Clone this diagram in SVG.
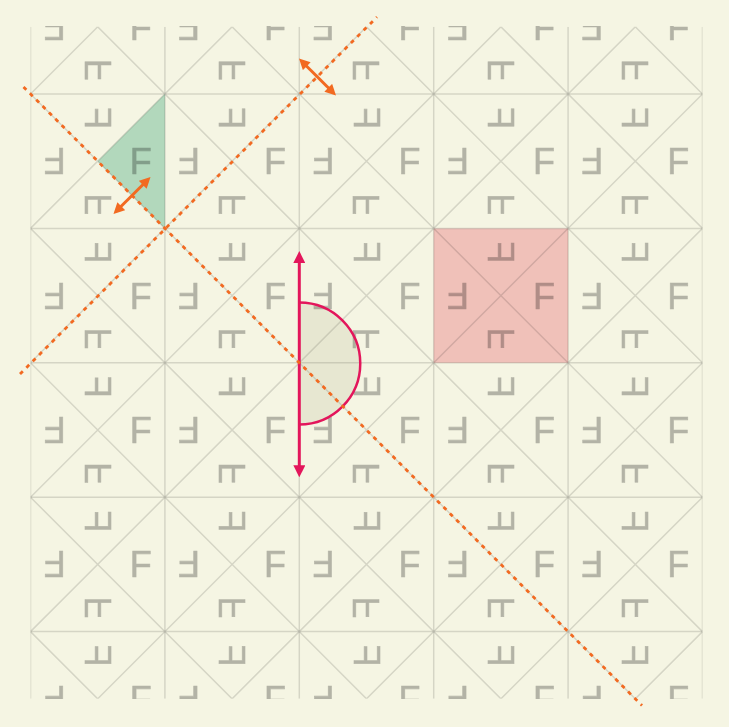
<svg xmlns="http://www.w3.org/2000/svg" width="729" height="727" viewBox="0 0 729 727">
<style>
.grid{fill:none;stroke:#000;stroke-opacity:0.13;stroke-width:1.5}
.glyphs text{font-family:"Liberation Sans",Arial,sans-serif;font-size:36px;text-anchor:middle;fill:#000;stroke:#000;stroke-width:0.6}
.orange{fill:none;stroke:#f26a21;stroke-width:2.8;stroke-dasharray:4 5}
.oarrow{fill:none;stroke:#f26a21;stroke-width:3}
.carrow{fill:none;stroke:#e3165b;stroke-width:3}
</style>
<defs>
<clipPath id="clip"><rect x="30.5" y="26.8" width="672" height="672"/></clipPath>
<marker id="ah-o" viewBox="0 0 10 10" refX="2" refY="5" markerWidth="11" markerHeight="11" markerUnits="userSpaceOnUse" orient="auto-start-reverse"><path d="M0,0L10,5L0,10z" fill="#f26a21"/></marker>
<marker id="ah-c" viewBox="0 0 12 12" refX="3" refY="6" markerWidth="12" markerHeight="12" markerUnits="userSpaceOnUse" orient="auto-start-reverse"><path d="M0,0L12,6L0,12z" fill="#e3165b"/></marker>
</defs>
<rect width="729" height="727" fill="#f5f5e3"/>
<g clip-path="url(#clip)">
<polygon id="unit-cell" points="433.7,228.4 568.1,228.4 568.1,362.8 433.7,362.8" fill="#f0c1b9"/>
<polygon id="fundamental-domain" points="164.9,94 164.9,228.4 97.7,161.2" fill="#b2d8bc"/>
<path class="grid" d="M30.5,26.8V698.8M164.9,26.8V698.8M299.3,26.8V698.8M433.7,26.8V698.8M568.1,26.8V698.8M702.5,26.8V698.8M30.5,94H702.5M30.5,228.4H702.5M30.5,362.8H702.5M30.5,497.2H702.5M30.5,631.6H702.5"/>
<path class="grid" d="M0,-608.5L729,120.5M0,-474.1L729,254.9M0,-339.7L729,389.3M0,-205.3L729,523.7M0,-70.9L729,658.1M0,63.5L729,792.5M0,197.9L729,926.9M0,332.3L729,1061.3M0,466.7L729,1195.7M0,601.1L729,1330.1M0,124.5L729,-604.5M0,258.9L729,-470.1M0,393.3L729,-335.7M0,527.7L729,-201.3M0,662.1L729,-66.9M0,796.5L729,67.5M0,930.9L729,201.9M0,1065.3L729,336.3M0,1199.7L729,470.7M0,1334.1L729,605.1"/>
<g class="glyphs" opacity="0.27">
<g id="cell-0-0" transform="translate(97.7,26.8)"><text x="0" y="12.9" transform="translate(43,0)">F</text><text x="0" y="12.9" transform="translate(-43,0) rotate(180)">F</text><text x="0" y="12.9" transform="translate(0,43) matrix(0,1,1,0,0,0)">F</text></g>
<g id="cell-0-1" transform="translate(232.1,26.8)"><text x="0" y="12.9" transform="translate(43,0)">F</text><text x="0" y="12.9" transform="translate(-43,0) rotate(180)">F</text><text x="0" y="12.9" transform="translate(0,43) matrix(0,1,1,0,0,0)">F</text></g>
<g id="cell-0-2" transform="translate(366.5,26.8)"><text x="0" y="12.9" transform="translate(43,0)">F</text><text x="0" y="12.9" transform="translate(-43,0) rotate(180)">F</text><text x="0" y="12.9" transform="translate(0,43) matrix(0,1,1,0,0,0)">F</text></g>
<g id="cell-0-3" transform="translate(500.9,26.8)"><text x="0" y="12.9" transform="translate(43,0)">F</text><text x="0" y="12.9" transform="translate(-43,0) rotate(180)">F</text><text x="0" y="12.9" transform="translate(0,43) matrix(0,1,1,0,0,0)">F</text></g>
<g id="cell-0-4" transform="translate(635.3,26.8)"><text x="0" y="12.9" transform="translate(43,0)">F</text><text x="0" y="12.9" transform="translate(-43,0) rotate(180)">F</text><text x="0" y="12.9" transform="translate(0,43) matrix(0,1,1,0,0,0)">F</text></g>
<g id="cell-1-0" transform="translate(97.7,161.2)"><text x="0" y="12.9" transform="translate(43,0)">F</text><text x="0" y="12.9" transform="translate(0,-43) matrix(0,-1,-1,0,0,0)">F</text><text x="0" y="12.9" transform="translate(-43,0) rotate(180)">F</text><text x="0" y="12.9" transform="translate(0,43) matrix(0,1,1,0,0,0)">F</text></g>
<g id="cell-1-1" transform="translate(232.1,161.2)"><text x="0" y="12.9" transform="translate(43,0)">F</text><text x="0" y="12.9" transform="translate(0,-43) matrix(0,-1,-1,0,0,0)">F</text><text x="0" y="12.9" transform="translate(-43,0) rotate(180)">F</text><text x="0" y="12.9" transform="translate(0,43) matrix(0,1,1,0,0,0)">F</text></g>
<g id="cell-1-2" transform="translate(366.5,161.2)"><text x="0" y="12.9" transform="translate(43,0)">F</text><text x="0" y="12.9" transform="translate(0,-43) matrix(0,-1,-1,0,0,0)">F</text><text x="0" y="12.9" transform="translate(-43,0) rotate(180)">F</text><text x="0" y="12.9" transform="translate(0,43) matrix(0,1,1,0,0,0)">F</text></g>
<g id="cell-1-3" transform="translate(500.9,161.2)"><text x="0" y="12.9" transform="translate(43,0)">F</text><text x="0" y="12.9" transform="translate(0,-43) matrix(0,-1,-1,0,0,0)">F</text><text x="0" y="12.9" transform="translate(-43,0) rotate(180)">F</text><text x="0" y="12.9" transform="translate(0,43) matrix(0,1,1,0,0,0)">F</text></g>
<g id="cell-1-4" transform="translate(635.3,161.2)"><text x="0" y="12.9" transform="translate(43,0)">F</text><text x="0" y="12.9" transform="translate(0,-43) matrix(0,-1,-1,0,0,0)">F</text><text x="0" y="12.9" transform="translate(-43,0) rotate(180)">F</text><text x="0" y="12.9" transform="translate(0,43) matrix(0,1,1,0,0,0)">F</text></g>
<g id="cell-2-0" transform="translate(97.7,295.6)"><text x="0" y="12.9" transform="translate(43,0)">F</text><text x="0" y="12.9" transform="translate(0,-43) matrix(0,-1,-1,0,0,0)">F</text><text x="0" y="12.9" transform="translate(-43,0) rotate(180)">F</text><text x="0" y="12.9" transform="translate(0,43) matrix(0,1,1,0,0,0)">F</text></g>
<g id="cell-2-1" transform="translate(232.1,295.6)"><text x="0" y="12.9" transform="translate(43,0)">F</text><text x="0" y="12.9" transform="translate(0,-43) matrix(0,-1,-1,0,0,0)">F</text><text x="0" y="12.9" transform="translate(-43,0) rotate(180)">F</text><text x="0" y="12.9" transform="translate(0,43) matrix(0,1,1,0,0,0)">F</text></g>
<g id="cell-2-2" transform="translate(366.5,295.6)"><text x="0" y="12.9" transform="translate(43,0)">F</text><text x="0" y="12.9" transform="translate(0,-43) matrix(0,-1,-1,0,0,0)">F</text><text x="0" y="12.9" transform="translate(-43,0) rotate(180)">F</text><text x="0" y="12.9" transform="translate(0,43) matrix(0,1,1,0,0,0)">F</text></g>
<g id="cell-2-3" transform="translate(500.9,295.6)"><text x="0" y="12.9" transform="translate(43,0)">F</text><text x="0" y="12.9" transform="translate(0,-43) matrix(0,-1,-1,0,0,0)">F</text><text x="0" y="12.9" transform="translate(-43,0) rotate(180)">F</text><text x="0" y="12.9" transform="translate(0,43) matrix(0,1,1,0,0,0)">F</text></g>
<g id="cell-2-4" transform="translate(635.3,295.6)"><text x="0" y="12.9" transform="translate(43,0)">F</text><text x="0" y="12.9" transform="translate(0,-43) matrix(0,-1,-1,0,0,0)">F</text><text x="0" y="12.9" transform="translate(-43,0) rotate(180)">F</text><text x="0" y="12.9" transform="translate(0,43) matrix(0,1,1,0,0,0)">F</text></g>
<g id="cell-3-0" transform="translate(97.7,430)"><text x="0" y="12.9" transform="translate(43,0)">F</text><text x="0" y="12.9" transform="translate(0,-43) matrix(0,-1,-1,0,0,0)">F</text><text x="0" y="12.9" transform="translate(-43,0) rotate(180)">F</text><text x="0" y="12.9" transform="translate(0,43) matrix(0,1,1,0,0,0)">F</text></g>
<g id="cell-3-1" transform="translate(232.1,430)"><text x="0" y="12.9" transform="translate(43,0)">F</text><text x="0" y="12.9" transform="translate(0,-43) matrix(0,-1,-1,0,0,0)">F</text><text x="0" y="12.9" transform="translate(-43,0) rotate(180)">F</text><text x="0" y="12.9" transform="translate(0,43) matrix(0,1,1,0,0,0)">F</text></g>
<g id="cell-3-2" transform="translate(366.5,430)"><text x="0" y="12.9" transform="translate(43,0)">F</text><text x="0" y="12.9" transform="translate(0,-43) matrix(0,-1,-1,0,0,0)">F</text><text x="0" y="12.9" transform="translate(-43,0) rotate(180)">F</text><text x="0" y="12.9" transform="translate(0,43) matrix(0,1,1,0,0,0)">F</text></g>
<g id="cell-3-3" transform="translate(500.9,430)"><text x="0" y="12.9" transform="translate(43,0)">F</text><text x="0" y="12.9" transform="translate(0,-43) matrix(0,-1,-1,0,0,0)">F</text><text x="0" y="12.9" transform="translate(-43,0) rotate(180)">F</text><text x="0" y="12.9" transform="translate(0,43) matrix(0,1,1,0,0,0)">F</text></g>
<g id="cell-3-4" transform="translate(635.3,430)"><text x="0" y="12.9" transform="translate(43,0)">F</text><text x="0" y="12.9" transform="translate(0,-43) matrix(0,-1,-1,0,0,0)">F</text><text x="0" y="12.9" transform="translate(-43,0) rotate(180)">F</text><text x="0" y="12.9" transform="translate(0,43) matrix(0,1,1,0,0,0)">F</text></g>
<g id="cell-4-0" transform="translate(97.7,564.4)"><text x="0" y="12.9" transform="translate(43,0)">F</text><text x="0" y="12.9" transform="translate(0,-43) matrix(0,-1,-1,0,0,0)">F</text><text x="0" y="12.9" transform="translate(-43,0) rotate(180)">F</text><text x="0" y="12.9" transform="translate(0,43) matrix(0,1,1,0,0,0)">F</text></g>
<g id="cell-4-1" transform="translate(232.1,564.4)"><text x="0" y="12.9" transform="translate(43,0)">F</text><text x="0" y="12.9" transform="translate(0,-43) matrix(0,-1,-1,0,0,0)">F</text><text x="0" y="12.9" transform="translate(-43,0) rotate(180)">F</text><text x="0" y="12.9" transform="translate(0,43) matrix(0,1,1,0,0,0)">F</text></g>
<g id="cell-4-2" transform="translate(366.5,564.4)"><text x="0" y="12.9" transform="translate(43,0)">F</text><text x="0" y="12.9" transform="translate(0,-43) matrix(0,-1,-1,0,0,0)">F</text><text x="0" y="12.9" transform="translate(-43,0) rotate(180)">F</text><text x="0" y="12.9" transform="translate(0,43) matrix(0,1,1,0,0,0)">F</text></g>
<g id="cell-4-3" transform="translate(500.9,564.4)"><text x="0" y="12.9" transform="translate(43,0)">F</text><text x="0" y="12.9" transform="translate(0,-43) matrix(0,-1,-1,0,0,0)">F</text><text x="0" y="12.9" transform="translate(-43,0) rotate(180)">F</text><text x="0" y="12.9" transform="translate(0,43) matrix(0,1,1,0,0,0)">F</text></g>
<g id="cell-4-4" transform="translate(635.3,564.4)"><text x="0" y="12.9" transform="translate(43,0)">F</text><text x="0" y="12.9" transform="translate(0,-43) matrix(0,-1,-1,0,0,0)">F</text><text x="0" y="12.9" transform="translate(-43,0) rotate(180)">F</text><text x="0" y="12.9" transform="translate(0,43) matrix(0,1,1,0,0,0)">F</text></g>
<g id="cell-5-0" transform="translate(97.7,698.8)"><text x="0" y="12.9" transform="translate(43,0)">F</text><text x="0" y="12.9" transform="translate(0,-43) matrix(0,-1,-1,0,0,0)">F</text><text x="0" y="12.9" transform="translate(-43,0) rotate(180)">F</text></g>
<g id="cell-5-1" transform="translate(232.1,698.8)"><text x="0" y="12.9" transform="translate(43,0)">F</text><text x="0" y="12.9" transform="translate(0,-43) matrix(0,-1,-1,0,0,0)">F</text><text x="0" y="12.9" transform="translate(-43,0) rotate(180)">F</text></g>
<g id="cell-5-2" transform="translate(366.5,698.8)"><text x="0" y="12.9" transform="translate(43,0)">F</text><text x="0" y="12.9" transform="translate(0,-43) matrix(0,-1,-1,0,0,0)">F</text><text x="0" y="12.9" transform="translate(-43,0) rotate(180)">F</text></g>
<g id="cell-5-3" transform="translate(500.9,698.8)"><text x="0" y="12.9" transform="translate(43,0)">F</text><text x="0" y="12.9" transform="translate(0,-43) matrix(0,-1,-1,0,0,0)">F</text><text x="0" y="12.9" transform="translate(-43,0) rotate(180)">F</text></g>
<g id="cell-5-4" transform="translate(635.3,698.8)"><text x="0" y="12.9" transform="translate(43,0)">F</text><text x="0" y="12.9" transform="translate(0,-43) matrix(0,-1,-1,0,0,0)">F</text><text x="0" y="12.9" transform="translate(-43,0) rotate(180)">F</text></g>
</g>
</g>
<g id="connectors">
<path id="half-disc" d="M299.3,302.5A61,61 0 0 1 299.3,424.5" fill="#8a8a60" fill-opacity="0.13" stroke="#e3165b" stroke-width="2.5"/>
<line class="carrow" x1="299.3" y1="260" x2="299.3" y2="468.3" marker-start="url(#ah-c)" marker-end="url(#ah-c)"/>
<line class="orange" x1="23.5" y1="87" x2="642" y2="705.5"/>
<line class="orange" x1="20" y1="374" x2="377" y2="17"/>
<line class="oarrow" x1="119.7" y1="207.8" x2="144.3" y2="183.2" marker-start="url(#ah-o)" marker-end="url(#ah-o)"/>
<line class="oarrow" x1="305.2" y1="64.7" x2="329.8" y2="89.3" marker-start="url(#ah-o)" marker-end="url(#ah-o)"/>
</g>
</svg>
